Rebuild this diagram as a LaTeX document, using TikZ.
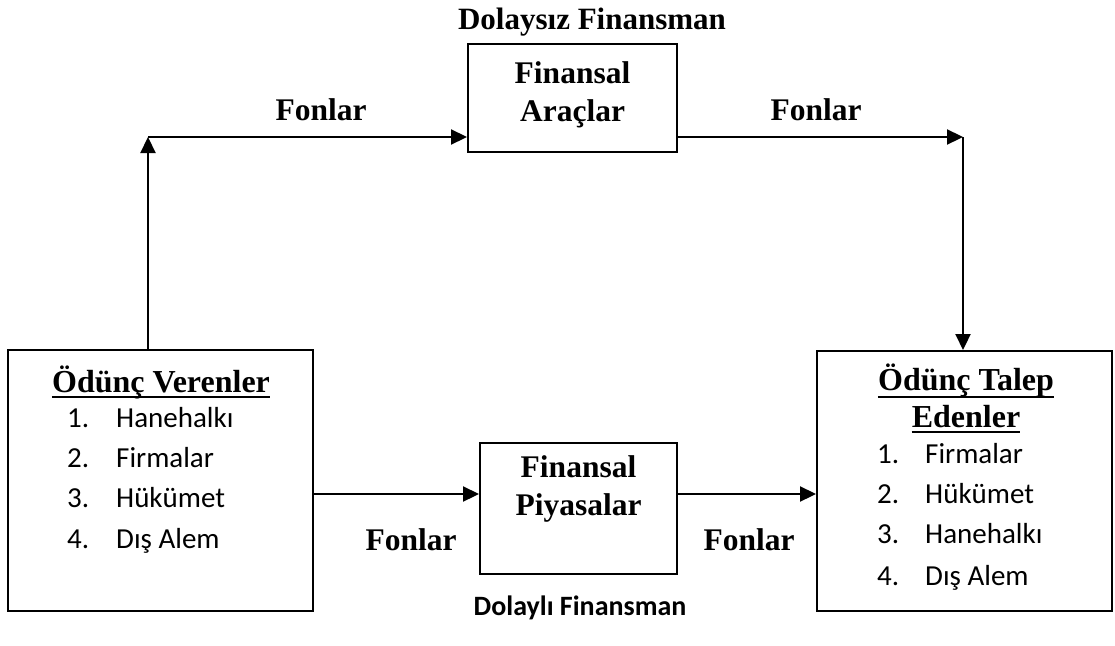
\documentclass[tikz,border=0pt]{standalone}
\usepackage{fontspec}
\setmainfont{Liberation Serif}
\newfontfamily\calib{Carlito}
\usetikzlibrary{arrows.meta}
\begin{document}
\begin{tikzpicture}[x=1pt,y=-1pt,
  box/.style={draw,line width=2pt,inner sep=0pt},
  arr/.style={line width=2.2pt,-{Triangle[length=16pt,width=15pt]}},
  ul/.style={line width=2.4pt},
  lbl/.style={font=\fontsize{31.5}{36}\selectfont\bfseries,inner sep=0pt,anchor=base},
  ttl/.style={font=\fontsize{32}{38}\selectfont\bfseries,inner sep=0pt,anchor=base},
  num/.style={font=\calib\fontsize{29}{32}\selectfont,anchor=base west,inner sep=0pt},
  captxt/.style={font=\calib\fontsize{28}{32}\selectfont\bfseries,anchor=base,inner sep=0pt},
  ]
\useasboundingbox (0,0) rectangle (1115,645);

% boxes
\node[box,minimum width=305pt,minimum height=261pt] (L) at (160.5,480.5) {};
\node[box,minimum width=295pt,minimum height=260pt] (R) at (964.5,481) {};
\node[box,minimum width=209pt,minimum height=108pt] (A) at (572.5,98) {};
\node[box,minimum width=197pt,minimum height=131pt] (P) at (578.5,508.5) {};

% box texts
\node[lbl] (a1) at (572.5,83) {Finansal};
\node[lbl] (a2) at (572.5,121) {Araçlar};
\node[lbl] (p1) at (578.5,477) {Finansal};
\node[lbl] (p2) at (578.5,515) {Piyasalar};

\node[ttl] (lt) at (161,392) {Ödünç Verenler};
\draw[ul] ([yshift=-5pt]lt.base west) -- ([yshift=-5pt]lt.base east);
\node[num] (ln1) at (67,427) {1.};
\node[num] (lt1) at (116,427) {Hanehalkı};
\node[num] (ln2) at (67,467) {2.};
\node[num] (lt2) at (116,467) {Firmalar};
\node[num] (ln3) at (67,507) {3.};
\node[num] (lt3) at (116,507) {Hükümet};
\node[num] (ln4) at (67,548) {4.};
\node[num] (lt4) at (116,548) {Dış Alem};

\node[ttl] (rt1) at (966,390) {Ödünç Talep};
\draw[ul] ([yshift=-7pt]rt1.base west) -- ([yshift=-7pt]rt1.base east);
\node[ttl] (rt2) at (966,427) {Edenler};
\draw[ul] ([yshift=-5pt]rt2.base west) -- ([yshift=-5pt]rt2.base east);
\node[num] (rn1) at (877,463) {1.};
\node[num] (rx1) at (925,463) {Firmalar};
\node[num] (rn2) at (877,503) {2.};
\node[num] (rx2) at (925,503) {Hükümet};
\node[num] (rn3) at (877,543) {3.};
\node[num] (rx3) at (925,543) {Hanehalkı};
\node[num] (rn4) at (877,585) {4.};
\node[num] (rx4) at (925,585) {Dış Alem};

% labels
\node[lbl,font=\fontsize{31}{36}\selectfont\bfseries] (top) at (592,29) {Dolaysız Finansman};
\node[captxt] (bot) at (580,615) {Dolaylı Finansman};
\node[lbl] (f1) at (321,120) {Fonlar};
\node[lbl] (f2) at (816,120) {Fonlar};
\node[lbl] (f3) at (411,550) {Fonlar};
\node[lbl] (f4) at (749,550) {Fonlar};

% connectors
\coordinate (c1) at (148,137);
\coordinate (c2) at (963,137);
\coordinate (c3) at (400,494);
\draw[arr] (L.north -| c1) -- (c1);
\draw[arr] (c1) -- (A.west |- c1);
\draw[arr] (A.east |- c2) -- (c2);
\draw[arr] (c2) -- (R.north -| c2);
\draw[arr] (L.east |- c3) -- (P.west |- c3);
\draw[arr] (P.east |- c3) -- (R.west |- c3);
\end{tikzpicture}
\end{document}
